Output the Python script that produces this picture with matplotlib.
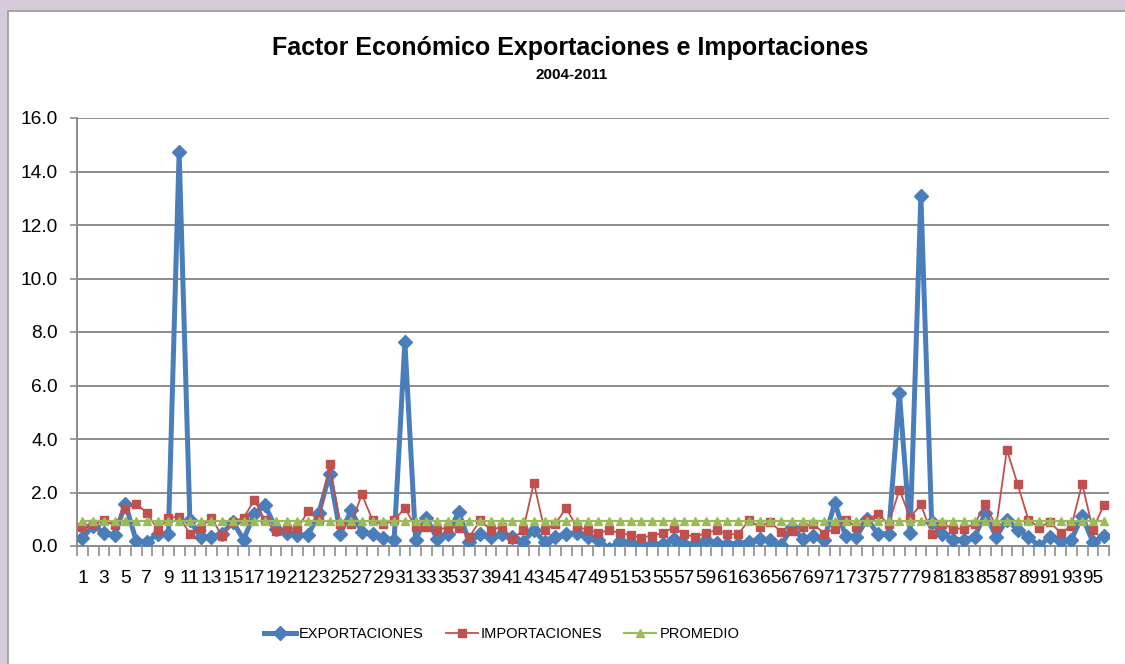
import matplotlib
matplotlib.use('Agg')
import matplotlib.pyplot as plt
import matplotlib.patches as mpatches
from matplotlib import font_manager
from matplotlib.ticker import FixedLocator

# Datos (96 meses, 2004-2011)
meses = list(range(1, 97))

exportaciones = [0.30, 0.75, 0.50, 0.40, 1.58, 0.20, 0.15, 0.45, 0.45, 14.73,
                 0.96, 0.34, 0.34, 0.46, 0.90, 0.24, 1.21, 1.52, 0.65, 0.49,
                 0.40, 0.40, 1.23, 2.70, 0.46, 1.33, 0.52, 0.46, 0.29, 0.24,
                 7.63, 0.24, 1.06, 0.27, 0.44, 1.27, 0.15, 0.44, 0.34, 0.44,
                 0.34, 0.15, 0.59, 0.15, 0.34, 0.46, 0.49, 0.34, 0.24, -0.10,
                 0.19, 0.11, 0.02, 0.09, 0.06, 0.27, 0.06, 0.09, 0.24, 0.11,
                 0.09, 0.09, 0.15, 0.27, 0.21, 0.02, 0.71, 0.27, 0.36, 0.24,
                 1.61, 0.36, 0.34, 1.02, 0.44, 0.46, 5.72, 0.49, 13.08, 0.90,
                 0.44, 0.24, 0.24, 0.34, 1.23, 0.34, 0.98, 0.61, 0.34, 0.00,
                 0.34, 0.19, 0.24, 1.11, 0.15, 0.36]

importaciones = [0.71, 0.83, 0.96, 0.77, 1.40, 1.56, 1.25, 0.61, 1.05, 1.10,
                 0.46, 0.69, 1.06, 0.36, 0.90, 1.06, 1.71, 0.96, 0.56, 0.65,
                 0.65, 1.30, 0.96, 3.05, 0.83, 0.83, 1.93, 0.96, 0.83, 0.96,
                 1.42, 0.71, 0.71, 0.61, 0.69, 0.69, 0.34, 0.96, 0.61, 0.71,
                 0.26, 0.59, 2.36, 0.59, 0.83, 1.42, 0.71, 0.61, 0.49, 0.59,
                 0.49, 0.40, 0.31, 0.39, 0.49, 0.69, 0.44, 0.34, 0.49, 0.59,
                 0.44, 0.44, 0.96, 0.71, 0.90, 0.52, 0.56, 0.71, 0.83, 0.46,
                 0.65, 0.98, 0.71, 0.98, 1.21, 0.81, 2.10, 1.06, 1.56, 0.44,
                 0.83, 0.65, 0.65, 0.83, 1.58, 0.71, 3.60, 2.31, 0.98, 0.69,
                 0.90, 0.49, 0.74, 2.33, 0.61, 1.52]

promedio = [0.94] * len(meses)

y_ticks = [0, 2, 4, 6, 8, 10, 12, 14, 16]
x_labels = [m for m in meses if m % 2 == 1]

# fuentes
names = {f.name for f in font_manager.fontManager.ttflist}
base_font = 'Liberation Sans' if 'Liberation Sans' in names else 'DejaVu Sans'
plt.rcParams['font.family'] = base_font

AZUL = '#4A7EBB'
ROJO = '#C0504D'
VERDE = '#9BBB59'
GRIS = '#8C8C8C'

fig = plt.figure(figsize=(11.25, 6.64), dpi=100, facecolor='#d6cadb')
# marco blanco del gráfico
fig.patches.append(mpatches.Rectangle((8 / 1125, -0.01), 1.0, 0.9934,
                                      transform=fig.transFigure, facecolor='white',
                                      edgecolor='#9a9a9a', linewidth=1.2, zorder=-10))

ax = fig.add_axes([77 / 1125, 1 - 546 / 664, (1109 - 77) / 1125, (546 - 118) / 664])
ax.set_zorder(2)
ax.set_facecolor('none')

ax.plot(meses, exportaciones, color=AZUL, linewidth=3.6, marker='D', markersize=7.5,
        markerfacecolor=AZUL, markeredgecolor=AZUL, label='EXPORTACIONES', zorder=3)
ax.plot(meses, importaciones, color=ROJO, linewidth=1.3, marker='s', markersize=5.5,
        markerfacecolor=ROJO, markeredgecolor=ROJO, label='IMPORTACIONES', zorder=4)
ax.plot(meses, promedio, color=VERDE, linewidth=1.6, marker='^', markersize=6,
        markerfacecolor=VERDE, markeredgecolor=VERDE, label='PROMEDIO', zorder=5)

ax.set_xlim(0.5, len(meses) + 0.5)
ax.set_ylim(0, 16)
ax.set_yticks(y_ticks)
ax.set_yticklabels([f'{v:.1f}' for v in y_ticks])
ax.yaxis.grid(True, color=GRIS, linewidth=1.4)
ax.set_axisbelow(True)

ax.xaxis.set_major_locator(FixedLocator(x_labels))
ax.set_xticklabels([str(m) for m in x_labels])
ax.xaxis.set_minor_locator(FixedLocator([m + 0.5 for m in range(0, len(meses) + 1)]))
ax.tick_params(axis='x', which='major', length=0, pad=17, labelsize=13.8)
ax.tick_params(axis='x', which='minor', length=7, width=1.2, color=GRIS, direction='out')
ax.tick_params(axis='y', length=5, width=1.2, color=GRIS, pad=9, labelsize=13.8)

for s in ['top', 'right']:
    ax.spines[s].set_visible(False)
for s in ['left', 'bottom']:
    ax.spines[s].set_color(GRIS)
    ax.spines[s].set_linewidth(1.4)

fig.text(0.507, 0.927, 'Factor Económico Exportaciones e Importaciones',
         ha='center', va='center', fontsize=18, fontweight='bold')
fig.text(0.508, 0.887, '2004-2011', ha='center', va='center', fontsize=11, fontweight='bold')

fig.legend(loc='center', bbox_to_anchor=(0.446, 0.045), ncol=3, frameon=False,
           prop={'size': 10.5}, handlelength=2.2, handletextpad=0.2, columnspacing=1.5)

fig.savefig('out.png', dpi=100, facecolor=fig.get_facecolor())
